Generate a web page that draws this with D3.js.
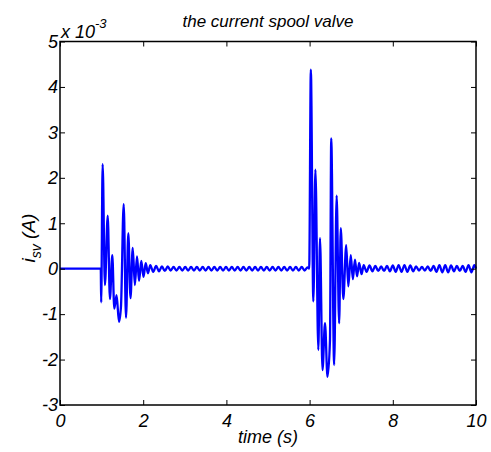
<!DOCTYPE html>
<html lang="en">
<head>
    <meta charset="UTF-8">
    <title>the current spool valve</title>
    <style>
        body { margin: 0; background: #fff; }
        svg { display: block; }
        text { font-family: "Liberation Sans", Arial, sans-serif; font-style: italic; fill: #000; }
    </style>
</head>
<body>
    <script src="https://cdnjs.cloudflare.com/ajax/libs/d3/7.8.2/d3.min.js"></script>
    <script>

        // time (s), current (x 10^-3 A)
        const repos = [[0, 0], [0.98, 0]];

        const salve1 = [
            [0.99, -0.74], [1.025, 2.30], [1.08, -0.36], [1.147, 1.17], [1.20, -0.67],
            [1.257, 0.30], [1.305, -0.88], [1.36, -0.58], [1.418, -1.17], [1.466, -0.83],
            [1.531, 1.42], [1.587, -1.08], [1.642, 0.78], [1.695, -0.65], [1.748, 0.46],
            [1.80, -0.36], [1.851, 0.27], [1.90, -0.27], [1.954, 0.17], [2.007, -0.18],
            [2.06, 0.12], [2.115, -0.10]
        ];

        const ondulation1 = [
            [2.17, 0.08], [2.24, -0.07], [2.31, 0.06], [2.38, -0.06], [2.45, 0.05], [2.52, -0.05],
            [2.59, 0.05], [2.66, -0.04], [2.73, 0.04], [2.80, -0.04], [2.87, 0.04], [2.94, -0.04],
            [3.01, 0.04], [3.08, -0.04], [3.15, 0.04], [3.22, -0.04], [3.29, 0.04], [3.36, -0.04],
            [3.43, 0.04], [3.50, -0.04], [3.57, 0.04], [3.64, -0.04], [3.71, 0.04], [3.78, -0.04],
            [3.85, 0.04], [3.92, -0.04], [3.99, 0.04], [4.06, -0.04], [4.13, 0.04], [4.20, -0.04],
            [4.27, 0.04], [4.34, -0.04], [4.41, 0.04], [4.48, -0.04], [4.55, 0.04], [4.62, -0.04],
            [4.69, 0.04], [4.76, -0.04], [4.83, 0.04], [4.90, -0.04], [4.97, 0.04], [5.04, -0.04],
            [5.11, 0.04], [5.18, -0.04], [5.25, 0.04], [5.32, -0.04], [5.39, 0.04], [5.46, -0.04],
            [5.53, 0.04], [5.60, -0.04], [5.67, 0.04], [5.74, -0.04], [5.81, 0.04], [5.88, -0.04],
            [5.95, 0.03], [5.99, 0]
        ];

        const salve2 = [
            [6.03, 4.38], [6.09, -0.72], [6.14, 2.18], [6.21, -1.79], [6.25, 0.67],
            [6.31, -2.23], [6.37, -1.20], [6.43, -2.38], [6.49, -1.57], [6.52, 2.87],
            [6.59, -2.12], [6.65, 1.61], [6.71, -1.20], [6.75, 0.89], [6.81, -0.67],
            [6.88, 0.52], [6.93, -0.39], [6.99, 0.30], [7.04, -0.23], [7.09, 0.20],
            [7.14, -0.17], [7.19, 0.13], [7.25, -0.12]
        ];

        const ondulation2 = [
            [7.30, 0.08], [7.37, -0.07], [7.44, 0.07], [7.51, -0.06], [7.58, 0.06], [7.65, -0.05],
            [7.72, 0.05], [7.79, -0.05], [7.86, 0.06], [7.93, -0.06], [8.00, 0.07], [8.07, -0.07],
            [8.14, 0.08], [8.21, -0.07], [8.28, 0.08], [8.35, -0.07], [8.42, 0.07], [8.49, -0.06],
            [8.56, 0.05], [8.63, -0.04], [8.70, 0.04], [8.77, -0.04], [8.84, 0.05], [8.91, -0.05],
            [8.98, 0.06], [9.05, -0.07], [9.12, 0.08], [9.19, -0.08], [9.26, 0.08], [9.33, -0.08],
            [9.40, 0.07], [9.47, -0.06], [9.54, 0.06], [9.61, -0.05], [9.68, 0.06], [9.75, -0.07],
            [9.82, 0.08], [9.89, -0.08], [9.96, 0.08], [10, 0.0]
        ];

        const ticksX = [0, 2, 4, 6, 8, 10];
        const ticksY = [-3, -2, -1, 0, 1, 2, 3, 4, 5];

        const donnees = repos.concat(salve1, ondulation1, salve2, ondulation2);

        const w = 491
        const h = 452
        const g = 60, d = 476, haut = 41.5, bas = 405

        let svg = d3.select("body")
            .append("svg")
                .attr("width", w)
                .attr("height", h)

        const echelleX = d3.scaleLinear().domain([0, 10]).range([g, d])
        const echelleY = d3.scaleLinear().domain([-3, 5]).range([bas, haut])

        // courbe
        const ligne = d3.line()
            .x(p => echelleX(p[0]))
            .y(p => echelleY(p[1]))
            .curve(d3.curveMonotoneX)

        svg.append("path")
            .datum(donnees)
            .attr("d", ligne)
            .attr("fill", "none")
            .attr("stroke", "#0000ff")
            .attr("stroke-width", 2.3)
            .attr("stroke-linejoin", "round")

        // axes (ticks vers l'intérieur, comme matlab)
        const styleAxe = sel => {
            sel.select(".domain").remove()
            sel.selectAll("line").attr("stroke", "#000").attr("stroke-width", 1)
            sel.selectAll("text").style("font-size", "18px").style("font-family", null)
        }

        svg.append("g")
            .attr("transform", `translate(0,${bas})`)
            .call(d3.axisBottom(echelleX).tickValues(ticksX).tickSize(-5).tickPadding(9).tickFormat(t => String(t)))
            .call(styleAxe)

        svg.append("g")
            .attr("transform", `translate(0,${haut})`)
            .call(d3.axisTop(echelleX).tickValues(ticksX).tickSize(-5).tickFormat(""))
            .call(styleAxe)

        svg.append("g")
            .attr("transform", `translate(${g},0)`)
            .call(d3.axisLeft(echelleY).tickValues(ticksY).tickSize(-5).tickPadding(2).tickFormat(t => String(t)))
            .call(styleAxe)

        svg.append("g")
            .attr("transform", `translate(${d},0)`)
            .call(d3.axisRight(echelleY).tickValues(ticksY).tickSize(-5).tickFormat(""))
            .call(styleAxe)

        // cadre
        svg.append("rect")
            .attr("x", g).attr("y", haut)
            .attr("width", d - g).attr("height", bas - haut)
            .attr("fill", "none")
            .attr("stroke", "#000")
            .attr("stroke-width", 1.5)

        // textes
        svg.append("text")
            .attr("x", (g + d) / 2).attr("y", 27)
            .attr("text-anchor", "middle")
            .style("font-size", "17px")
            .text("the current spool valve")

        svg.append("text")
            .attr("x", (g + d) / 2).attr("y", 443)
            .attr("text-anchor", "middle")
            .style("font-size", "18px")
            .text("time (s)")

        const multi = svg.append("text")
            .attr("x", 61).attr("y", 38)
            .style("font-size", "18px")
        multi.append("tspan").text("x 10")
        multi.append("tspan").attr("dy", -10).style("font-size", "13px").text("-3")

        const etiquetteY = svg.append("text")
            .attr("transform", "translate(35,238) rotate(-90)")
            .attr("text-anchor", "middle")
            .style("font-size", "19px")
        etiquetteY.append("tspan").text("i")
        etiquetteY.append("tspan").attr("dy", 6).style("font-size", "14px").text("sv")
        etiquetteY.append("tspan").attr("dy", -6).text(" (A)")

    </script>
</body>
</html>
